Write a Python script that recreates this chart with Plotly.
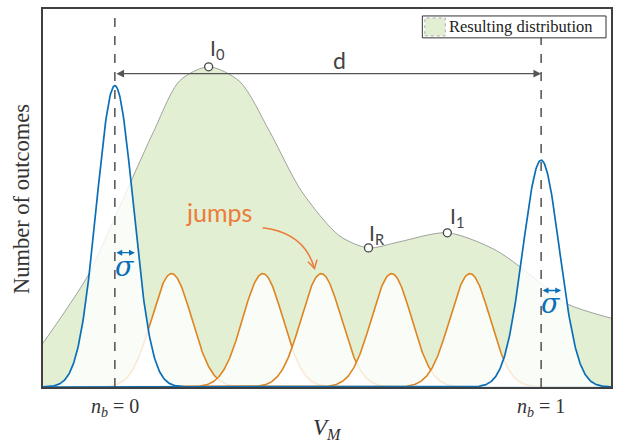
import numpy as np
import plotly.graph_objects as go

# ---------------- data ----------------
# Resulting distribution, V_M in units where n_b=0 -> 0, n_b=1 -> 1
dist_x = [-0.1686, -0.117, -0.063, -0.012, 0.035, 0.091, 0.152, 0.220, 0.293, 0.363,
          0.438, 0.527, 0.595, 0.667, 0.780, 0.895, 1.000, 1.059, 1.164]
dist_y = [0.116, 0.200, 0.295, 0.418, 0.537, 0.676, 0.810, 0.847, 0.808, 0.676,
          0.518, 0.400, 0.368, 0.384, 0.408, 0.361, 0.274, 0.221, 0.182]

# Jump peaks (orange)
jump_centers = [0.133, 0.347, 0.484, 0.649, 0.833]
jump_heights = [0.30, 0.30, 0.30, 0.30, 0.30]
jump_sigma = 0.047

# Ideal peaks (blue) at n_b = 0 and n_b = 1
peak_centers = [0.0, 1.0]
peak_heights = [0.797, 0.60]
peak_sigma = 0.043

# Highlighted points on the distribution
pt_names = ["I<sub>0</sub>", "I<sub>R</sub>", "I<sub>1</sub>"]
pt_x = [0.220, 0.595, 0.780]
pt_y = [0.847, 0.368, 0.408]

tick_labels = ["<i>n<sub>b</sub></i> = 0", "<i>n<sub>b</sub></i> = 1"]

# ---------------- layout helpers ----------------
W, H = 620, 443
L, R, T, B = 43, 8, 7, 56
X0PX, X1PX = 115.0, 542.0
PW, PH = W - L - R, H - T - B
def X(px):  # pixel -> data x
    return (px - X0PX) / (X1PX - X0PX)
def Y(py):  # pixel -> data / paper y (y range is [0,1])
    return (H - B - py) / PH
def PX(px):  # pixel -> paper x
    return (px - L) / PW

xmin, xmax = X(L), X(W - R)
xs = np.linspace(xmin, xmax, 900)

BLUE = "#0b6fb8"
ORANGE = "#de8420"
JUMPTXT = "#ec7c3a"
GREY = "#444444"

fig = go.Figure()
fig.add_trace(go.Scatter(x=dist_x, y=dist_y, mode="lines",
                         line=dict(color="#8c8c8c", width=0.8, shape="spline", smoothing=0.8),
                         fill="tozeroy", fillcolor="#e2efd3", hoverinfo="skip"))

def gauss(c, h, s):
    return h * np.exp(-(xs - c) ** 2 / (2 * s * s))

for c, h in zip(jump_centers, jump_heights):
    fig.add_trace(go.Scatter(x=xs, y=gauss(c, h, jump_sigma), mode="lines",
                             line=dict(color=ORANGE, width=1.6),
                             fill="tozeroy", fillcolor="rgba(255,255,255,0.82)"))
for c, h in zip(peak_centers, peak_heights):
    fig.add_trace(go.Scatter(x=xs, y=gauss(c, h, peak_sigma), mode="lines",
                             line=dict(color=BLUE, width=1.7),
                             fill="tozeroy", fillcolor="rgba(255,255,255,0.82)"))

fig.add_trace(go.Scatter(x=pt_x, y=pt_y, mode="markers",
                         marker=dict(size=8, color="white", line=dict(color=GREY, width=1.3))))

shapes = []
for c in peak_centers:
    shapes.append(dict(type="line", xref="x", yref="y", x0=c, x1=c, y0=0, y1=1,
                       line=dict(color=GREY, width=1.4, dash="dash"), layer="above"))
# legend box
shapes.append(dict(type="rect", xref="x", yref="y", x0=X(423), x1=X(607), y0=Y(36), y1=Y(14),
                   fillcolor="white", line=dict(color="#333333", width=1), layer="above"))
shapes.append(dict(type="rect", xref="x", yref="y", x0=X(425.5), x1=X(446), y0=Y(34), y1=Y(16),
                   fillcolor="#e2efd3", line=dict(color="#999999", width=0.8, dash="dot"), layer="above"))
# curved "jumps" arrow
p0, pc, p1 = (263, 227), (305, 232), (315, 268)
shapes.append(dict(type="path", xref="x", yref="y", layer="above",
                   path=f"M {X(p0[0])},{Y(p0[1])} Q {X(pc[0])},{Y(pc[1])} {X(p1[0])},{Y(p1[1])}",
                   line=dict(color=JUMPTXT, width=1.5)))
shapes.append(dict(type="path", xref="x", yref="y", layer="above",
                   path=f"M {X(308.5)},{Y(261)} L {X(315)},{Y(268)} L {X(317.5)},{Y(259)}",
                   line=dict(color=JUMPTXT, width=1.5)))

ann = []
def text(xp, yp, t, size, color, family="Lato", xanchor="center", **kw):
    ann.append(dict(x=PX(xp), y=Y(yp), xref="paper", yref="paper", text=t, showarrow=False,
                    xanchor=xanchor, yanchor="middle",
                    font=dict(family=family, size=size, color=color), **kw))

# d arrow
yd = Y(72)
ann.append(dict(x=peak_centers[1], y=yd, ax=peak_centers[0], ay=yd, axref="x", ayref="y",
                xref="x", yref="y", text="", showarrow=True, arrowside="end+start",
                arrowhead=2, arrowsize=1.1, arrowwidth=1.4, arrowcolor="#555555",
                standoff=0, startstandoff=0))
text(340, 58, "d", 23, GREY)
# sigma arrows
for c, py, ly in [(peak_centers[0], 252, 266), (peak_centers[1], 290, 303)]:
    yy = Y(py)
    ann.append(dict(x=c + X(X0PX + 20), y=yy, ax=c, ay=yy, axref="x", ayref="y",
                    xref="x", yref="y", text="", showarrow=True, arrowside="end+start",
                    arrowhead=2, arrowsize=0.9, arrowwidth=1.3, arrowcolor=BLUE,
                    standoff=0, startstandoff=0))
    cx = X0PX + (X1PX - X0PX) * c + 10
    text(cx, ly, "<i>σ</i>", 27, BLUE, family="DejaVu Serif")
# point labels
for name, px_, py_ in zip(pt_names, [218, 378, 458], [47, 233, 216]):
    text(px_, py_, name, 21, GREY)
text(219, 211, "jumps", 25, JUMPTXT)
text(448, 25, "Resulting distribution", 16.5, "#222222", family="Liberation Serif", xanchor="left")
for c, t in zip(peak_centers, tick_labels):
    text(X0PX + (X1PX - X0PX) * c, 408, t, 20, "#333333", family="Liberation Serif")
text(L + PW / 2, 429, "<i>V<sub>M</sub></i>", 23, "#333333", family="Liberation Serif")
text(22, 198, "Number of outcomes", 22.5, "#333333", family="Liberation Serif", textangle=-90)

fig.update_layout(
    width=W, height=H, margin=dict(l=L, r=R, t=T, b=B),
    paper_bgcolor="white", plot_bgcolor="white", showlegend=False,
    shapes=shapes, annotations=ann,
    xaxis=dict(range=[xmin, xmax], showgrid=False, zeroline=False, showticklabels=False,
               ticks="", showline=True, mirror=True, linecolor="#404040", linewidth=1.5),
    yaxis=dict(range=[0, 1], showgrid=False, zeroline=False, showticklabels=False,
               ticks="", showline=True, mirror=True, linecolor="#404040", linewidth=1.5),
)
fig.write_html("out.html", config={"displayModeBar": False},
               post_script="document.body.style.margin='0px';")
